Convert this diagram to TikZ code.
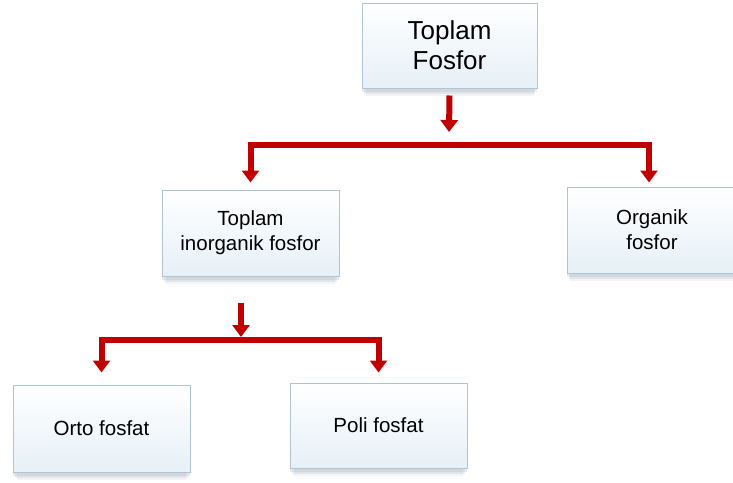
\documentclass[tikz,border=0pt]{standalone}
\usepackage{fontspec}
\setmainfont{Liberation Sans}
\usetikzlibrary{arrows.meta,shadows}
\definecolor{boxline}{HTML}{AFC4D4}
\definecolor{boxfill}{HTML}{E6F0F7}
\definecolor{arrowred}{HTML}{C00000}
\definecolor{shade}{HTML}{7F93A6}
\tikzset{
  box/.style={draw=boxline, line width=1pt, top color=white, bottom color=boxfill,
    align=center, inner sep=0pt, minimum width=177pt, minimum height=86pt,
    drop shadow={shadow xshift=0pt, shadow yshift=-10pt, shadow scale=0.96, opacity=0.10, fill=shade},
    drop shadow={shadow xshift=0pt, shadow yshift=-7pt, shadow scale=0.98, opacity=0.14, fill=shade},
    drop shadow={shadow xshift=0pt, shadow yshift=-4pt, opacity=0.18, fill=shade}},
  bigtext/.style={font=\fontsize{26}{30}\selectfont},
  smalltext/.style={font=\fontsize{20.5}{25}\selectfont},
  redarrow/.style={draw=arrowred, line width=6pt, line join=miter,
    -{Triangle[width=17pt,length=12pt]}}
}

\begin{document}
\begin{tikzpicture}[x=1pt,y=-1pt]
  \useasboundingbox (0,0) rectangle (733,482);
  \clip (0,0) rectangle (733,482);

  \node[box, bigtext, minimum width=175pt, minimum height=85pt] (top) at (449.5,45.5) {Toplam\\Fosfor};
  \node[box, smalltext] (inorg) at (250.5,233) {Toplam\\inorganik fosfor};
  \node[box, smalltext, minimum width=170pt] (org) at (652,230) {Organik\\fosfor};
  \node[box, smalltext, minimum height=87pt] (orto) at (101.5,428.5) {Orto fosfat};
  \node[box, smalltext, minimum height=85pt] (poli) at (378.5,425.5) {Poli fosfat};

  \coordinate (split1) at (449,145);
  \coordinate (split2) at (241,340);

  \draw[redarrow] ([yshift=-7pt]top.south) -- ([yshift=13pt]split1);
  \draw[redarrow] (split1) -| ([yshift=7pt]inorg.north);
  \draw[redarrow] (split1) -| ([xshift=-3pt, yshift=4pt]org.north);

  \draw[redarrow] ([xshift=-9.5pt, yshift=-26pt]inorg.south) -- ([yshift=3pt]split2);
  \draw[redarrow] (split2) -| ([yshift=12pt]orto.north);
  \draw[redarrow] (split2) -| ([yshift=10pt]poli.north);
\end{tikzpicture}
\end{document}
